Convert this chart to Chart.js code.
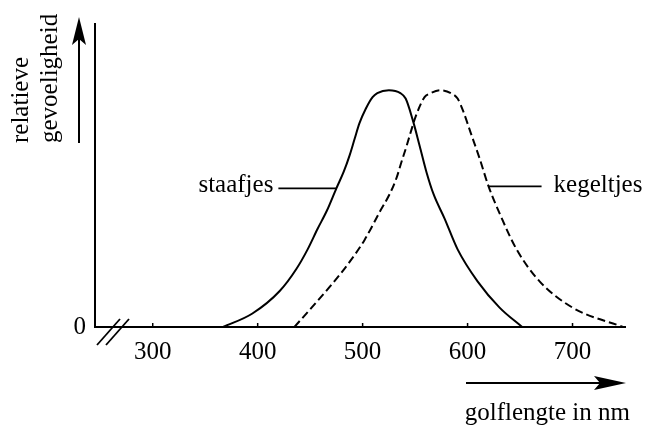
<!DOCTYPE html>
<html>
<head>
<meta charset="utf-8">
<script src="https://cdn.jsdelivr.net/npm/chart.js@4.4.1/dist/chart.umd.min.js"></script>
<style>
  html, body { margin: 0; padding: 0; background: #fff; }
  #chart { display: block; }
</style>
</head>
<body>
<canvas id="chart" width="648" height="427"></canvas>
<script>
// Spectral sensitivity (wavelength in nm, relative sensitivity)
const rodNm   = [367, 395, 421, 437, 447.6, 457, 466, 475, 482, 487.6, 492.4, 497, 503, 509.5, 514, 525, 536, 541, 547.6, 554.3, 561, 567.6, 578, 590.5, 609.5, 630.5, 652];
const rodSens = [0, 0.057, 0.152, 0.246, 0.328, 0.414, 0.492, 0.586, 0.656, 0.725, 0.795, 0.861, 0.922, 0.971, 0.988, 1.0, 0.988, 0.965, 0.877, 0.766, 0.652, 0.561, 0.459, 0.328, 0.193, 0.082, 0];

const coneNm   = [435, 451.4, 471.4, 487.6, 502, 517, 525.7, 532.4, 537, 542, 546.7, 550.5, 559, 564, 574, 585, 590.5, 596, 603, 611.4, 620, 630.5, 646.7, 668.6, 700, 748];
const coneSens = [0, 0.082, 0.184, 0.275, 0.369, 0.492, 0.561, 0.631, 0.697, 0.766, 0.836, 0.889, 0.971, 0.986, 1.0, 0.986, 0.965, 0.910, 0.820, 0.713, 0.594, 0.480, 0.328, 0.193, 0.082, 0];

const xTicks = [300, 400, 500, 600, 700];
const yTicks = [0];

// where the series labels point at (nm, sensitivity)
const rodLabel  = { text: 'staafjes',  nm: 475, sens: 0.586 };
const coneLabel = { text: 'kegeltjes', nm: 620, sens: 0.594 };

const FONT = '"Liberation Serif", "DejaVu Serif", serif';

function toPoints(xs, ys) {
    return xs.map((x, i) => ({ x: x, y: ys[i] }));
}

function arrowHead(ctx, tipX, tipY, dir, len, half) {
    // dir: 'up' or 'right'
    ctx.beginPath();
    if (dir === 'up') {
        ctx.moveTo(tipX, tipY);
        ctx.lineTo(tipX - half, tipY + len);
        ctx.lineTo(tipX, tipY + len - 6);
        ctx.lineTo(tipX + half, tipY + len);
    } else {
        ctx.moveTo(tipX, tipY);
        ctx.lineTo(tipX - len, tipY - half);
        ctx.lineTo(tipX - len + 6, tipY);
        ctx.lineTo(tipX - len, tipY + half);
    }
    ctx.closePath();
    ctx.fill();
}

// Extra drawing: axis arrows, rotated y title, break marks, tick marks, series labels
const decorations = {
    id: 'decorations',
    afterDraw(chart) {
        const ctx = chart.ctx;
        const xs = chart.scales.x;
        const ys = chart.scales.y;
        const area = chart.chartArea;
        ctx.save();
        ctx.fillStyle = '#000';
        ctx.strokeStyle = '#000';
        ctx.font = '25px ' + FONT;

        // small inward tick marks on the x axis
        ctx.lineWidth = 1.5;
        xTicks.forEach(v => {
            const px = xs.getPixelForValue(v);
            ctx.beginPath();
            ctx.moveTo(px, area.bottom);
            ctx.lineTo(px, area.bottom - 4);
            ctx.stroke();
        });

        // axis break "//"
        ctx.lineWidth = 1.8;
        [0, 9].forEach(off => {
            ctx.beginPath();
            ctx.moveTo(area.left + 2 + off, area.bottom + 18);
            ctx.lineTo(area.left + 25 + off, area.bottom - 8);
            ctx.stroke();
        });

        // y title with arrow
        ctx.textAlign = 'left';
        ctx.textBaseline = 'alphabetic';
        [['relatieve', 28], ['gevoeligheid', 57]].forEach(([t, bx]) => {
            ctx.save();
            ctx.translate(bx, 143);
            ctx.rotate(-Math.PI / 2);
            ctx.fillText(t, 0, 0);
            ctx.restore();
        });
        ctx.lineWidth = 2;
        ctx.beginPath();
        ctx.moveTo(79, 143);
        ctx.lineTo(79, 30);
        ctx.stroke();
        arrowHead(ctx, 79, 17, 'up', 28, 7);

        // x title with arrow
        ctx.beginPath();
        ctx.moveTo(466, 383);
        ctx.lineTo(612, 383);
        ctx.stroke();
        arrowHead(ctx, 626, 383, 'right', 32, 7);
        ctx.textAlign = 'right';
        ctx.fillText('golflengte in nm', 630, 420);

        // series labels with leader lines
        ctx.lineWidth = 1.8;
        const rx = xs.getPixelForValue(rodLabel.nm);
        const ry = ys.getPixelForValue(rodLabel.sens);
        ctx.beginPath();
        ctx.moveTo(rx, ry);
        ctx.lineTo(rx - 58, ry);
        ctx.stroke();
        ctx.textAlign = 'right';
        ctx.fillText(rodLabel.text, rx - 63, ry + 4);

        const cx = xs.getPixelForValue(coneLabel.nm);
        const cy = ys.getPixelForValue(coneLabel.sens);
        ctx.beginPath();
        ctx.moveTo(cx, cy);
        ctx.lineTo(cx + 53, cy);
        ctx.stroke();
        ctx.textAlign = 'left';
        ctx.fillText(coneLabel.text, cx + 65, cy + 6);

        ctx.restore();
    }
};

const ctx = document.getElementById('chart').getContext('2d');
new Chart(ctx, {
    type: 'line',
    data: {
        datasets: [{
            label: 'staafjes',
            data: toPoints(rodNm, rodSens),
            borderColor: '#000',
            borderWidth: 2,
            pointRadius: 0,
            cubicInterpolationMode: 'monotone',
            fill: false
        }, {
            label: 'kegeltjes',
            data: toPoints(coneNm, coneSens),
            borderColor: '#000',
            borderWidth: 2,
            borderDash: [8, 4],
            pointRadius: 0,
            cubicInterpolationMode: 'monotone',
            fill: false
        }]
    },
    options: {
        responsive: false,
        animation: false,
        layout: { padding: { top: 15, right: 23, left: 0, bottom: 0 } },
        plugins: {
            legend: { display: false },
            tooltip: { enabled: false }
        },
        scales: {
            x: {
                type: 'linear',
                min: 245,
                max: 750,
                afterBuildTicks: scale => { scale.ticks = xTicks.map(v => ({ value: v })); },
                afterFit: scale => { scale.height = 100; },
                grid: { display: false, drawTicks: false },
                border: { display: true, color: '#000', width: 2 },
                ticks: {
                    color: '#000',
                    padding: 10,
                    maxRotation: 0,
                    autoSkip: false,
                    font: { family: FONT, size: 25 }
                }
            },
            y: {
                min: 0,
                max: 1.28,
                afterBuildTicks: scale => { scale.ticks = yTicks.map(v => ({ value: v })); },
                afterFit: scale => { scale.width = 95; },
                grid: { display: false, drawTicks: false },
                border: { display: true, color: '#000', width: 2 },
                ticks: {
                    color: '#000',
                    padding: 9,
                    font: { family: FONT, size: 25 }
                }
            }
        }
    },
    plugins: [decorations]
});
</script>
</body>
</html>
